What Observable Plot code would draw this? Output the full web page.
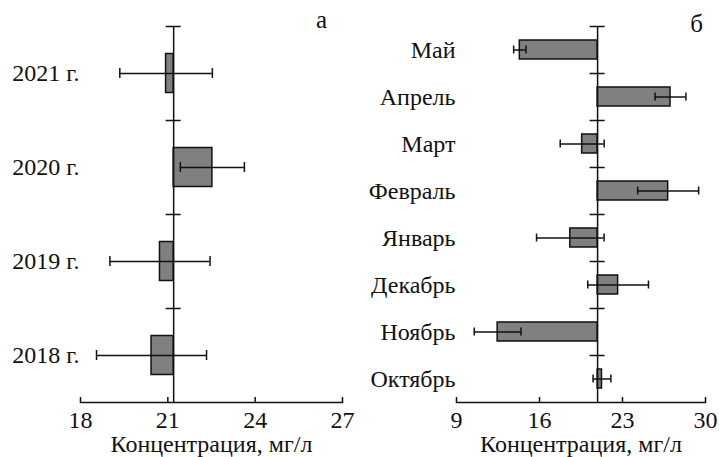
<!DOCTYPE html>
<html><head><meta charset="utf-8">
<script src="https://cdn.jsdelivr.net/npm/d3@7"></script>
<script src="https://cdn.jsdelivr.net/npm/@observablehq/plot@0.6"></script>
<style>
body{margin:0;background:#fff;}
#wrap{display:flex;width:719px;height:457px;overflow:hidden;}
svg{display:block}
svg, svg text, svg g { font-family: "Liberation Serif", "Times New Roman", serif !important; }
</style></head><body><div id="wrap"></div>
<script>
// Panel а: years
const years = ["2021 г.", "2020 г.", "2019 г.", "2018 г."];
const yearValues = [20.94, 22.53, 20.73, 20.44];
const yearErrors = [1.59, 1.1, 1.72, 1.89];
const yearBase = 21.2;
const yearTicks = [18, 21, 24, 27];

// Panel б: months
const months = ["Май", "Апрель", "Март", "Февраль", "Январь", "Декабрь", "Ноябрь", "Октябрь"];
const monthValues = [14.34, 27.05, 19.6, 26.85, 18.6, 22.63, 12.47, 21.27];
const monthErrors = [0.52, 1.3, 1.85, 2.57, 2.85, 2.56, 1.97, 0.75];
const monthBase = 20.9;
const monthTicks = [9, 16, 23, 30];

const xTitle = "Концентрация, мг/л";

function panel(o) {
  const data = o.cats.map((c, i) => ({cat: c, value: o.values[i], err: o.errors[i]}));
  const H = 457, mt = 26, mb = 55;
  const innerH = H - mt - mb;
  const bw = innerH / o.cats.length;
  const ink = "#111";
  const font = "Liberation Serif";
  return Plot.plot({
    width: o.width, height: H, marginTop: mt, marginBottom: mb,
    marginLeft: o.marginLeft, marginRight: o.marginRight,
    style: {fontFamily: font, fontSize: "24px", color: ink, background: "white", overflow: "visible"},
    x: {domain: [o.ticks[0], o.ticks[o.ticks.length - 1]]},
    y: {domain: o.cats, padding: 0},
    marks: [
      Plot.barX(data, {y: "cat", x1: o.base, x2: "value", fill: "#808080", stroke: ink, strokeWidth: 1.5, insetTop: o.barInset, insetBottom: o.barInset}),
      Plot.ruleX([o.base], {stroke: ink, strokeWidth: 1.5}),
      Plot.ruleY(o.cats, {y: d => d, x1: o.base, x2: o.base, dy: -bw / 2, insetLeft: -7.5, insetRight: -7.5, stroke: ink, strokeWidth: 1.5}),
      Plot.ruleY(data, {y: "cat", x1: d => d.value - d.err, x2: d => d.value + d.err, stroke: ink, strokeWidth: 1.5}),
      Plot.tickX(data, {y: "cat", x: d => d.value - d.err, insetTop: o.capInset, insetBottom: o.capInset, stroke: ink, strokeWidth: 1.5}),
      Plot.tickX(data, {y: "cat", x: d => d.value + d.err, insetTop: o.capInset, insetBottom: o.capInset, stroke: ink, strokeWidth: 1.5}),
      Plot.frame({anchor: "bottom", stroke: ink, strokeWidth: 1.5}),
      Plot.tickX(o.ticks, {x: d => d, insetTop: innerH - 5, stroke: ink, strokeWidth: 1.5}),
      Plot.axisX({ticks: o.ticks, tickSize: 0, tickPadding: 8, label: null, fontFamily: font, fontSize: 24}),
      Plot.axisY({tickSize: 0, tickPadding: 1, label: null, fontFamily: font, fontSize: 24}),
      Plot.text([xTitle], {frameAnchor: "bottom", lineAnchor: "middle", dy: 41.5, text: d => d, fontFamily: font, fontSize: 24}),
      Plot.text([o.letter], {frameAnchor: "top-right", lineAnchor: "middle", textAnchor: "middle", dx: o.letterDx, dy: o.letterDy, text: d => d, fontFamily: font, fontSize: 25})
    ]
  });
}

const wrap = document.getElementById("wrap");
wrap.appendChild(panel({cats: years, values: yearValues, errors: yearErrors, base: yearBase, ticks: yearTicks,
  width: 360, marginLeft: 80, marginRight: 18, barInset: 27.5, capInset: 42, letter: "а", letterDx: -21, letterDy: -7}));
wrap.appendChild(panel({cats: months, values: monthValues, errors: monthErrors, base: monthBase, ticks: monthTicks,
  width: 359, marginLeft: 96, marginRight: 14, barInset: 14, capInset: 19.5, letter: "б", letterDx: -9, letterDy: -3}));
</script>
</body></html>
